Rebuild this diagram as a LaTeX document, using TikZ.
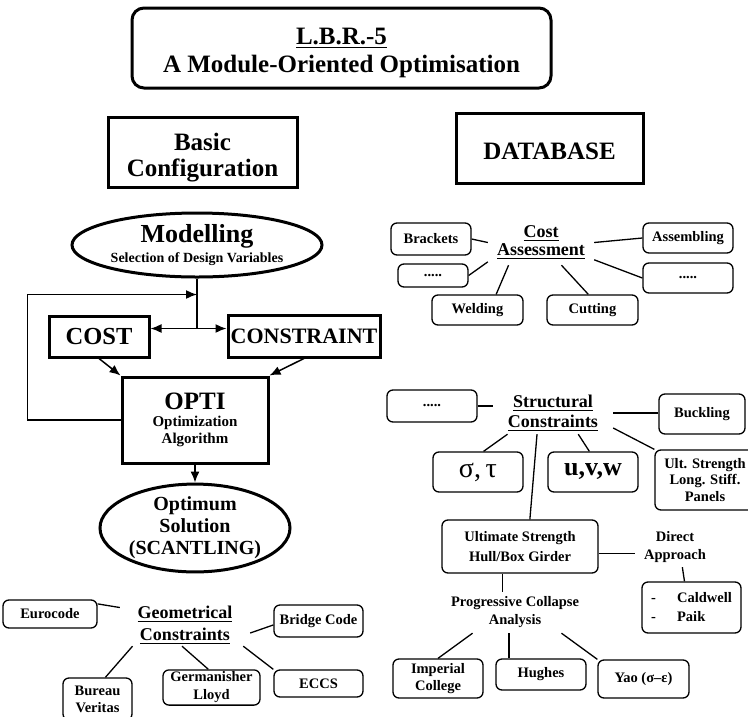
\documentclass[tikz,border=0pt]{standalone}
\usepackage{fontspec}
\setmainfont{Liberation Serif}
\usepackage{tikz}
\usetikzlibrary{arrows.meta}
\usetikzlibrary{calc}
\usetikzlibrary{positioning}
\usetikzlibrary{shapes.geometric}
\newsavebox\ulbox
\newcommand{\thickul}[1]{\sbox\ulbox{#1}\rlap{\rule[-3.4pt]{\wd\ulbox}{1.3pt}}\usebox\ulbox}

\begin{document}
\begin{tikzpicture}[x=1pt, y=-1pt, font=\bfseries,
        heavybox/.style={draw, line width=3pt, inner sep=2pt, align=center},
        oval/.style={draw, ellipse, line width=3pt, inner sep=0pt, align=center},
        item/.style={draw, rounded corners=6pt, line width=1.3pt, inner sep=2pt, align=center, font=\fontsize{14.5}{18}\selectfont\bfseries},
        hub/.style={inner sep=0pt, align=center, font=\fontsize{18}{20}\selectfont\bfseries},
        link/.style={line width=1.3pt},
        arr/.style={line width=1.5pt, -{Latex[length=11pt, width=9pt]}}]
    \useasboundingbox (0,0) rectangle (748,716);

    \node[heavybox, rounded corners=12pt, minimum width=419pt, minimum height=80pt, font=\fontsize{25}{28}\selectfont\bfseries] (title) at (341.5,48) {\rule{0pt}{26.5pt}\thickul{L.B.R.-5}\\A Module-Oriented Optimisation};
    \node[heavybox, minimum width=189pt, minimum height=70pt, font=\fontsize{25}{26}\selectfont\bfseries] (basic) at (202.5,152) {\rule{0pt}{28.5pt}Basic\\Configuration};
    \node[heavybox, minimum width=187pt, minimum height=70pt, font=\fontsize{25}{26}\selectfont\bfseries] (database) at (549.5,148) {\rule{0pt}{23.5pt}DATABASE};

    \node[oval, minimum width=250pt, minimum height=64pt, font=\fontsize{14}{20}\selectfont\bfseries] (model) at (197,245) {{\fontsize{26}{26}\selectfont Modelling}\\Selection of Design Variables};
    \node[heavybox, minimum width=100pt, minimum height=41pt, font=\fontsize{24.5}{26}\selectfont\bfseries] (cost) at (99,336.5) {COST};
    \node[heavybox, minimum width=152pt, minimum height=42pt, inner sep=0pt, font=\fontsize{22}{24}\selectfont\bfseries] (constraint) at (304,336) {CONSTRAINT};
    \node[heavybox, minimum width=146pt, minimum height=86pt, font=\fontsize{15}{17}\selectfont\bfseries] (opti) at (195,420) {{\fontsize{25}{25}\selectfont OPTI}\\Optimization\\Algorithm};
    \node[oval, minimum width=190pt, minimum height=83pt, font=\fontsize{20}{22}\selectfont\bfseries] (optimum) at (195,528) {Optimum\\Solution\\(SCANTLING)};

    \coordinate (fb) at ([yshift=-16pt]model.south);
    \coordinate (junc) at ([yshift=-50pt]model.south);
    \draw[line width=1.5pt] (model.south) -- (junc);
    \draw[arr] (junc) -- (junc -| cost.east);
    \draw[arr] (junc) -- (junc -| constraint.west);
    \draw[arr] (opti.west) -- ++(-93,0) |- (fb);
    \draw[arr] (cost.south) -- (opti.north west);
    \draw[arr] (constraint.south) -- (opti.north east);
    \draw[arr] (opti.south) -- (optimum.north);

    \node[hub, minimum width=106pt, minimum height=45pt, font=\fontsize{18}{18}\selectfont\bfseries] (costhub) at (541,242.5) {\thickul{Cost}\\\thickul{Assessment}};
    \node[item, minimum width=80pt, minimum height=32pt] (brackets) at (431,239) {Brackets};
    \node[item, minimum width=90pt, minimum height=30pt] (assembling) at (688,238) {Assembling};
    \node[item, minimum width=70pt, minimum height=23pt] (costdotsl) at (433,275.5) {.....};
    \node[item, minimum width=90pt, minimum height=30pt] (costdotsr) at (688,278) {.....};
    \node[item, minimum width=91pt, minimum height=30pt] (welding) at (477.5,310) {Welding};
    \node[item, minimum width=91pt, minimum height=30pt] (cutting) at (592.5,310) {Cutting};
    \draw[link] (brackets.east) -- (costhub.west);
    \draw[link] (costdotsl.east) -- (costhub.200);
    \draw[link] (welding.40) -- (costhub.215);
    \draw[link] (cutting.105) -- (costhub.312);
    \draw[link] (costdotsr.west) -- (costhub.342);
    \draw[link] (assembling.west) -- (costhub.east);

    \node[hub, minimum width=120pt, minimum height=42pt] (structhub) at (553,413) {\thickul{Structural}\\\thickul{Constraints}};
    \node[item, minimum width=90pt, minimum height=32pt] (structdots) at (432,406) {.....};
    \node[item, minimum width=86pt, minimum height=40pt] (buckling) at (702,414) {Buckling};
    \node[item, minimum width=100pt, minimum height=60pt, font=\fontsize{14.5}{16.5}\selectfont\bfseries] (ultpanel) at (705,480) {Ult. Strength\\Long. Stiff.\\Panels};
    \node[item, minimum width=90pt, minimum height=40pt, font=\fontsize{28}{28}\selectfont] (stress) at (478,472) {σ,\,τ};
    \node[item, minimum width=90pt, minimum height=40pt, font=\fontsize{26}{26}\selectfont\bfseries] (displ) at (593,472) {u,v,w};
    \node[item, minimum width=156pt, minimum height=53pt, font=\fontsize{14.5}{20}\selectfont\bfseries] (hullgirder) at (520,546.5) {Ultimate Strength\\Hull/Box Girder};
    \node[hub, minimum width=80pt, minimum height=40pt, font=\fontsize{14.5}{18}\selectfont\bfseries] (direct) at (675,547) {Direct\\Approach};
    \node[item, minimum width=99pt, minimum height=51pt, align=left, font=\fontsize{14.5}{19}\selectfont\bfseries] (authors) at (691.5,607.5) {\makebox[26pt][l]{-}Caldwell\\\makebox[26pt][l]{-}Paik};
    \node[hub, minimum width=150pt, minimum height=41pt, font=\fontsize{14.5}{18}\selectfont\bfseries] (collapse) at (515,612.5) {Progressive Collapse\\Analysis};
    \node[item, minimum width=90pt, minimum height=39pt, font=\fontsize{14.5}{17}\selectfont\bfseries] (imperial) at (438,678.5) {Imperial\\College};
    \node[item, minimum width=90pt, minimum height=31pt] (hughes) at (541,674.5) {Hughes};
    \node[item, minimum width=91pt, minimum height=38pt] (yao) at (643.5,679) {Yao (σ–ε)};
    \draw[link] (structdots.east) -- (structdots.east -| structhub.west);
    \draw[link] (structhub.east) -- (structhub.east -| buckling.west);
    \draw[link] (structhub.346) -- (ultpanel.north west);
    \draw[link] (structhub.205) -- (stress.75);
    \draw[link] (structhub.320) -- (displ.100);
    \draw[link] (structhub.233) -- (hullgirder.70);
    \draw[link] (hullgirder.355) -- (hullgirder.355 -| direct.west);
    \draw[link] (direct.290) -- (authors.105);
    \draw[link] (hullgirder.237) -- (hullgirder.237 |- collapse.north);
    \draw[link] (collapse.206) -- (imperial.north);
    \draw[link] (collapse.254) -- (collapse.254 |- hughes.north);
    \draw[link] (collapse.336) -- (yao.north west);

    \node[hub, minimum width=130pt, minimum height=42pt, font=\fontsize{18}{22}\selectfont\bfseries] (geohub) at (185,625) {\thickul{Geometrical}\\\thickul{Constraints}};
    \node[item, minimum width=94pt, minimum height=28pt] (eurocode) at (50,614) {Eurocode};
    \node[item, minimum width=89pt, minimum height=32pt] (bridge) at (318.5,621) {Bridge Code};
    \node[item, minimum width=69pt, minimum height=42pt, font=\fontsize{14.5}{17}\selectfont\bfseries] (veritas) at (97.5,699) {Bureau\\Veritas};
    \node[item, minimum width=97pt, minimum height=35pt] (lloyd) at (211.5,687.5) {Germanisher\\Lloyd};
    \node[item, minimum width=89pt, minimum height=27pt] (eccs) at (318.5,683.5) {ECCS};
    \draw[link] (eurocode.12) -- (geohub.165);
    \draw[link] (geohub.353) -- (bridge.185);
    \draw[link] (geohub.202) -- (veritas.70);
    \draw[link] (geohub.262) -- (lloyd.100);
    \draw[link] (geohub.340) -- (eccs.north west);
\end{tikzpicture}
\end{document}
